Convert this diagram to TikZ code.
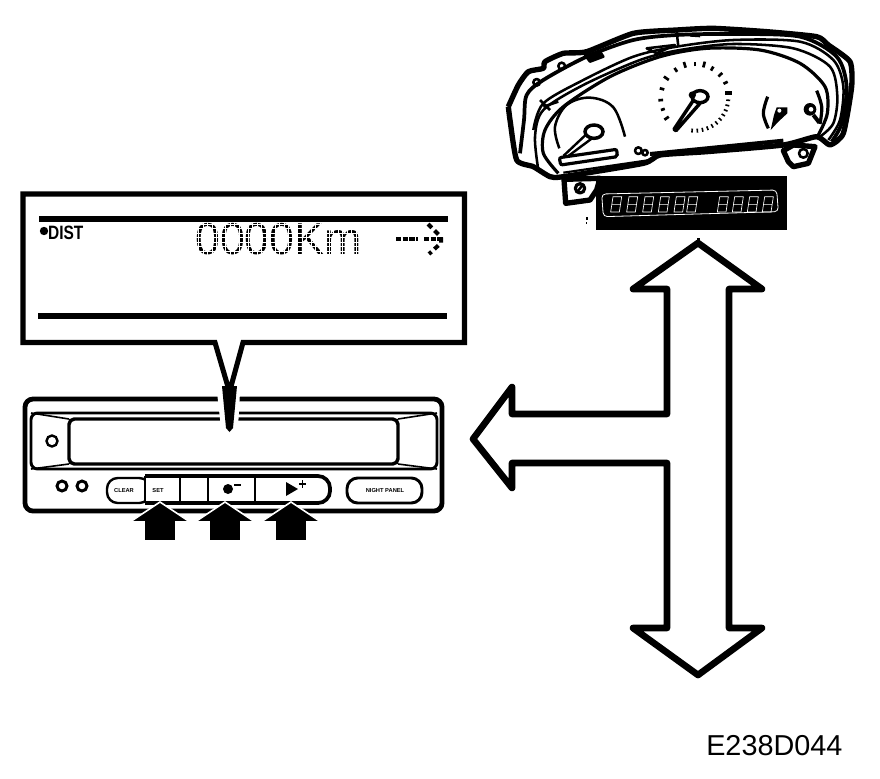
\documentclass[tikz,border=0pt]{standalone}
\usepackage{fontspec}
\setmainfont{Liberation Sans}
\tikzset{
  x=.75pt,y=-.75pt,
  bigarrow/.style={draw=black,fill=white,line width=5pt,line join=round},
  calloutline/.style={draw=black,fill=white,line width=3.8pt,line join=miter},
  rule/.style={draw=black,line width=3.8pt},
  panelout/.style={draw=black,line width=3.6pt,rounded corners=6pt},
  panelin/.style={draw=black,line width=2.2pt,rounded corners=5pt},
  keybox/.style={draw=black,line width=1.8pt,rounded corners=8pt},
  pushdown/.style={fill=black,draw=white,line width=1.2pt,line join=miter},
  keytext/.style={font=\bfseries\fontsize{4.3}{5}\selectfont,inner sep=0pt},
  thick outline/.style={draw=black,line width=4pt,line join=round},
  faceline/.style={draw=black,line width=1.9pt,line join=round},
  needle/.style={draw=black,line width=1.8pt,fill=white,line join=round},
  tickmark/.style={draw=black,line width=1.7pt},
  segment/.style={draw=white,line width=.5pt},
}
\begin{document}
\begin{tikzpicture}
\useasboundingbox (0,0) rectangle (880,778);
\fill[white] (0,0) rectangle (880,778);

% --- T-shaped double arrow
\draw[bigarrow] (698,243) -- (762,289) -- (729,289) -- (729,628) -- (762,628) -- (698,675)
  -- (633,628) -- (667,628) -- (667,463) -- (512,463) -- (512,488) -- (473,439) -- (512,387)
  -- (512,414) -- (667,414) -- (667,289) -- (633,289) -- cycle;

% --- control panel
\draw[panelout] (25,399) rectangle (442,511);
\draw[panelin] (31,413) rectangle (437,469);
\draw[draw=black,line width=2.6pt,rounded corners=4pt] (69,419) rectangle (398,464);
\draw[draw=black,line width=1.2pt] (31,413) -- (69,419) (31,469) -- (69,464) (437,413) -- (398,419) (437,469) -- (398,464);
\draw[draw=black,line width=1.8pt] (52,441) circle (5.5);
\draw[draw=black,line width=2.2pt] (62,486) circle (5);
\draw[draw=black,line width=2.2pt] (82,486) circle (5);
\draw[keybox] (107,478) rectangle (150,503);
\fill[white] (145,476) rectangle (330,503);
\draw[draw=black,line width=2.8pt,rounded corners=9pt] (145,476) -- (330,476) -- (330,503) -- (145,503);
\draw[draw=black,line width=2.2pt] (145,476) -- (145,503);
\draw[draw=black,line width=1.8pt] (180,477) -- (180,502) (208,477) -- (208,502) (255,477) -- (255,502);
\draw[keybox,line width=2.2pt] (347,478) rectangle (422,503);
\node[keytext] (clearlabel) at (124,491) {CLEAR};
\node[keytext] (setlabel) at (158,491) {SET};
\node[keytext] (nightlabel) at (385,491) {NIGHT PANEL};
\fill[black] (228,489) circle (5);
\draw[draw=black,line width=1.3pt] (234,485) -- (241,485);
\fill[black] (286,482) -- (298,489) -- (286,496) -- cycle;
\draw[draw=black,line width=1.3pt] (299,484) -- (306,484) (302.5,480) -- (302.5,488);

% --- push arrows
\foreach \c in {160,225,291}{
  \filldraw[pushdown] (\c,502) -- (\c+30,522) -- (\c+16,522) -- (\c+16,541) -- (\c-16,541) -- (\c-16,522) -- (\c-30,522) -- cycle;
}

% --- callout
\fill[white] (217,392) -- (240,392) -- (238,428) -- (221,428) -- cycle;
\draw[calloutline] (23,194) -- (464.5,194) -- (464.5,342.5) -- (243,342.5) -- (229.5,392) -- (215,342.5) -- (23,342.5) -- cycle;
\fill[black] (222,386) -- (237,386) -- (233,428) -- (229.5,432) -- (226,428) -- cycle;
\node[anchor=west,inner sep=0pt,font=\bfseries\fontsize{14.5}{18}\selectfont,xscale=.8] (distlabel) at (48,232.5) {DIST};
\fill[black] (44,231) circle (4.2);
\node[anchor=west,inner sep=0pt,font=\fontsize{33.5}{36}\selectfont] (kmlabel) at (195,239) {0000Km};
% dot-matrix breaks over the reading
\foreach \g in {224,228.5,...,258}{\draw[draw=white,line width=.6pt] (192,\g) -- (366,\g);}
\foreach \g in {194,198.5,...,366}{\draw[draw=white,line width=.6pt] (\g,222) -- (\g,258);}
\draw[rule] (39,219) -- (448,219);
\draw[rule] (38,316) -- (447,316);
\draw[draw=black,line width=2.4pt,dash pattern=on 4pt off 1pt] (396,239) -- (418,239);
\draw[draw=black,line width=2.4pt,dash pattern=on 4pt off 1pt] (424,239) -- (443,239);
\draw[draw=black,line width=3pt,dash pattern=on 4pt off 3pt] (428,224) -- (441,237) -- (441,243) -- (429,254);

% --- instrument cluster (zoom coordinates)
\begin{scope}[shift={(500,20)},x=.25pt,y=-.25pt]
  \draw[thick outline,fill=white] plot[smooth,tension=.35] coordinates {(25,260) (55,195) (85,155) (130,145) (135,125) (190,100) (260,95) (400,40) (530,30) (640,25) (800,35) (950,50) (985,75) (1050,125) (1055,200) (1030,340) (990,375) (950,350) (850,375) (620,395) (480,405) (430,430) (190,470) (150,470) (100,440) (50,420) (30,300) (25,260)};
  % mounting tabs
  \draw[thick outline,fill=white] (850,392) -- (880,375) -- (945,380) -- (925,430) -- (880,440) -- (865,425) -- cycle;
  \draw[faceline] (910,400) circle (13);
  \draw[thick outline,fill=white] (192,478) -- (300,475) -- (290,510) -- (270,540) -- (197,550) -- cycle;
  \draw[faceline,line width=2.4pt] (240,505) circle (14);
  \draw[faceline] (232,515) -- (248,495);
  % face lines
  \draw[faceline,line width=2.8pt] plot[smooth,tension=.5] coordinates {(60,400) (72,300) (80,225) (130,180) (260,110) (400,60) (530,45) (700,42) (900,50) (1010,110) (1040,200) (1025,310) (995,365)};
  \draw[faceline] plot[smooth,tension=.5] coordinates {(100,330) (130,250) (250,180) (400,110) (530,80) (700,60) (900,65) (1000,120) (1030,200) (1020,300) (985,360)};
  \draw[faceline] plot[smooth,tension=.5] coordinates {(115,450) (105,350) (130,270) (250,195) (420,120) (540,90) (700,72) (880,85) (990,140) (1012,230) (1000,310) (960,350)};
  \draw[draw=black,line width=2.4pt] plot[smooth,tension=.5] coordinates {(175,460) (130,400) (135,330) (190,260) (330,170) (480,110) (620,85) (780,90) (900,130) (975,200) (982,280) (955,345)};
  \draw[faceline] (120,240) -- (150,270) (130,260) -- (175,245);
  \draw[faceline,fill=black] (255,105) -- (300,95) -- (310,110) -- (270,125) -- cycle;
  \draw[faceline] (440,85) -- (525,75) -- (470,100) -- cycle;
  \draw[faceline] (530,35) -- (535,80);
  \fill[black] (570,42) -- (600,45) -- (600,52) -- (570,50) -- cycle;
  \draw[faceline] (110,187) circle (10);
  \draw[faceline] (185,138) circle (10);
  % left gauge
  \draw[faceline] plot[smooth,tension=.6] coordinates {(178,385) (165,320) (200,255) (270,233) (340,262) (375,350)};
  \draw[needle] (190,408) -- (262,340) -- (280,352) -- (205,408);
  \draw[draw=black,line width=2.6pt,fill=white] (282,335) ellipse (27 and 20);
  \draw[draw=black,line width=2.4pt,fill=white,rounded corners=1.5pt] (178,413) -- (350,388) -- (352,410) -- (182,435) -- cycle;
  \draw[faceline] (415,392) circle (10) (435,398) circle (8);
  % bottom strip
  \draw[draw=black,line width=1.6pt] (190,458) -- (450,420);
  \draw[draw=black,line width=3pt] (450,402) -- (850,362);
  % centre gauge
  \foreach \a/\l in {-145/18,-124/14,-107/18,-90/14,-75/18,-60/14,-43/16,-27/14,-164/14,-183/14,-199/12,-215/16}{
     \draw[tickmark,line width=2pt] (585,235) ++(\a:96) -- ++(\a:\l);
  }
  \draw[draw=black,line width=3pt] (675,220) -- (697,220);
  \foreach \a in {5,14,23,32,41,50,59,68,77,86,95}{
     \draw[tickmark,line width=1.2pt] (585,232) ++(\a:94) -- ++(\a:12);
  }
  \draw[needle,line width=2.6pt] (522,328) -- (582,238) -- (600,250) -- (528,332) -- cycle;
  \draw[draw=black,line width=2.6pt,fill=white] (600,230) ellipse (24 and 18);
  \fill[black] (577,225) circle (11);
  % right gauges
  \draw[draw=black,line width=2.4pt] plot[smooth,tension=.6] coordinates {(803,230) (790,280) (805,325)};
  \fill[black] (812,330) -- (822,285) -- (830,262) -- (862,262) -- (862,280) -- (835,305) -- cycle;
  \fill[white] (838,272) circle (6);
  \draw[draw=black,line width=2.4pt] plot[smooth,tension=.6] coordinates {(950,212) (965,260) (960,312)};
  \fill[black] (930,268) circle (19);
  \fill[white] (933,268) circle (7);
  \draw[draw=black,line width=3pt] (940,285) -- (958,308);
  % display plate
  \fill[black] (288,468) rectangle (860,630);
  \draw[draw=white,line width=.6pt,rounded corners=3pt] (305,522) -- (830,510) -- (835,575) -- (310,590) -- cycle;
  \foreach \d in {332,380,428,475,522,560,652,697,742,787}{
    \draw[segment] (\d,576) -- (\d+7,530) -- (\d+33,530) -- (\d+26,576) -- cycle (\d+3.5,553) -- (\d+29.5,553);
  }
  \fill[black] (258,590) rectangle (265,600);
  \fill[black] (258,605) rectangle (262,612);
  \fill[black] (590,655) rectangle (600,659);
\end{scope}

% --- figure code
\node[anchor=base west,inner sep=0pt,font=\fontsize{21.6}{24}\selectfont] (figcode) at (706,755) {E238D044};
\end{tikzpicture}
\end{document}
